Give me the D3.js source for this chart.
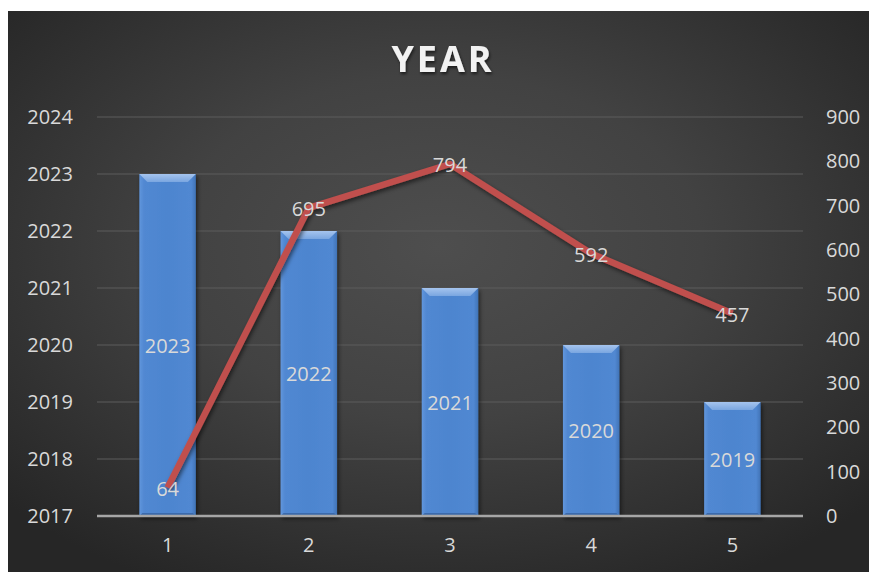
<!DOCTYPE html>
<html>
<head>
<meta charset="utf-8">
<script src="https://cdn.jsdelivr.net/npm/d3@7"></script>
<style>
  html, body { margin: 0; padding: 0; background: #ffffff; }
  svg { display: block; }
</style>
</head>
<body>
<svg id="chart" width="869" height="572"></svg>
<script>
// Categories and series
const categories = ["1", "2", "3", "4", "5"];
const yearValues = [2023, 2022, 2021, 2020, 2019];
const lineValues = [64, 695, 794, 592, 457];
const leftTicks = [2017, 2018, 2019, 2020, 2021, 2022, 2023, 2024];
const rightTicks = [0, 100, 200, 300, 400, 500, 600, 700, 800, 900];
const title = "YEAR";

const svg = d3.select("#chart");
const W = 869, H = 572;
const frame = { x: 8, y: 11, w: W - 8, h: H - 11 };
const plot = { left: 97, right: 803, top: 117, bottom: 516 };

const defs = svg.append("defs");

// Dark radial background
const bg = defs.append("radialGradient").attr("id", "bg")
  .attr("cx", "50%").attr("cy", "42%").attr("r", "68%");
bg.append("stop").attr("offset", "0%").attr("stop-color", "#4e4e4e");
bg.append("stop").attr("offset", "45%").attr("stop-color", "#424242");
bg.append("stop").attr("offset", "100%").attr("stop-color", "#262626");

// Bar body gradient (slightly lighter edges)
const barGrad = defs.append("linearGradient").attr("id", "barGrad")
  .attr("x1", "0").attr("x2", "1").attr("y1", "0").attr("y2", "0");
[["0%", "#6196dc"], ["8%", "#5188d2"], ["50%", "#4d85cf"], ["92%", "#5188d2"], ["100%", "#4073b6"]]
  .forEach(([o, c]) => barGrad.append("stop").attr("offset", o).attr("stop-color", c));

const bevGrad = defs.append("linearGradient").attr("id", "bevGrad")
  .attr("x1", "0").attr("x2", "0").attr("y1", "0").attr("y2", "1");
bevGrad.append("stop").attr("offset", "0%").attr("stop-color", "#a5c4ee");
bevGrad.append("stop").attr("offset", "100%").attr("stop-color", "#7aa6e0");

const shadow = defs.append("filter").attr("id", "shadow")
  .attr("x", "-20%").attr("y", "-20%").attr("width", "140%").attr("height", "140%");
shadow.append("feDropShadow").attr("dx", 1.5).attr("dy", 2.5).attr("stdDeviation", 2)
  .attr("flood-color", "#000").attr("flood-opacity", 0.55);

const textShadow = defs.append("filter").attr("id", "tshadow")
  .attr("x", "-20%").attr("y", "-30%").attr("width", "140%").attr("height", "160%");
textShadow.append("feDropShadow").attr("dx", 1).attr("dy", 2).attr("stdDeviation", 1.5)
  .attr("flood-color", "#000").attr("flood-opacity", 0.6);

svg.append("rect")
  .attr("x", frame.x).attr("y", frame.y)
  .attr("width", frame.w).attr("height", frame.h)
  .attr("fill", "url(#bg)");

// Scales
const x = d3.scaleBand().domain(categories)
  .range([plot.left, plot.right]).paddingInner(0.6).paddingOuter(0.3);
const yL = d3.scaleLinear().domain([2017, 2024]).range([plot.bottom, plot.top]);
const yR = d3.scaleLinear().domain([0, 900]).range([plot.bottom, plot.top]);

const font = "'Open Sans', 'Noto Sans', sans-serif";
const textColor = "#d9d9d9";

// Gridlines
svg.append("g")
  .selectAll("line").data(leftTicks.slice(1)).join("line")
  .attr("x1", plot.left).attr("x2", plot.right)
  .attr("y1", d => yL(d)).attr("y2", d => yL(d))
  .attr("stroke", "#5c5c5c").attr("stroke-width", 1.2);

// Left axis
const leftAxis = svg.append("g")
  .attr("transform", `translate(${plot.left - 24},0)`)
  .call(d3.axisLeft(yL).tickValues(leftTicks).tickFormat(d3.format("d")).tickSize(0).tickPadding(0));
leftAxis.select(".domain").remove();
leftAxis.selectAll("text").attr("fill", textColor).attr("font-family", font).attr("font-size", 20);

// Right axis
const rightAxis = svg.append("g")
  .attr("transform", `translate(${plot.right + 23},0)`)
  .call(d3.axisRight(yR).tickValues(rightTicks).tickSize(0).tickPadding(0));
rightAxis.select(".domain").remove();
rightAxis.selectAll("text").attr("fill", textColor).attr("font-family", font).attr("font-size", 20);

// Bottom axis labels
const bottomAxis = svg.append("g")
  .attr("transform", `translate(0,${plot.bottom + 22})`)
  .call(d3.axisBottom(x).tickSize(0).tickPadding(0));
bottomAxis.select(".domain").remove();
bottomAxis.selectAll("text").attr("fill", textColor).attr("font-family", font).attr("font-size", 20);

// Bars with bevelled tops
const bars = svg.append("g").selectAll("g").data(categories).join("g")
  .attr("filter", "url(#shadow)");
const bw = x.bandwidth();
const bev = 8;
bars.append("rect")
  .attr("x", d => x(d)).attr("width", bw)
  .attr("y", (d, i) => yL(yearValues[i]))
  .attr("height", (d, i) => yL(2017) - yL(yearValues[i]))
  .attr("fill", "url(#barGrad)");
bars.append("path")
  .attr("d", (d, i) => {
    const x0 = x(d), x1 = x(d) + bw, y0 = yL(yearValues[i]);
    return `M${x0},${y0}L${x1},${y0}L${x1 - bev},${y0 + bev}L${x0 + bev},${y0 + bev}Z`;
  })
  .attr("fill", "url(#bevGrad)");
bars.append("path")
  .attr("d", (d, i) => {
    const x0 = x(d), x1 = x(d) + bw, y0 = yL(yearValues[i]), yb = yL(2017);
    return `M${x0},${yb}L${x1},${yb}L${x1 - 3},${yb - 3}L${x0 + 3},${yb - 3}Z`;
  })
  .attr("fill", "#3b6aab");

// Baseline
svg.append("line")
  .attr("x1", plot.left).attr("x2", plot.right)
  .attr("y1", plot.bottom).attr("y2", plot.bottom)
  .attr("stroke", "#a6a6a6").attr("stroke-width", 2.5);

// Bar value labels
svg.append("g").selectAll("text").data(categories).join("text")
  .attr("x", d => x(d) + bw / 2)
  .attr("y", (d, i) => (yL(yearValues[i]) + yL(2017)) / 2)
  .attr("text-anchor", "middle").attr("dominant-baseline", "central")
  .attr("fill", textColor).attr("font-family", font).attr("font-size", 20)
  .text((d, i) => yearValues[i]);

// Line series
const line = d3.line()
  .x((d, i) => x(categories[i]) + bw / 2)
  .y(d => yR(d));
svg.append("path")
  .datum(lineValues)
  .attr("d", line)
  .attr("fill", "none")
  .attr("stroke", "#c0504d")
  .attr("stroke-width", 6.5)
  .attr("stroke-linejoin", "round")
  .attr("filter", "url(#shadow)");

// Line value labels
svg.append("g").selectAll("text").data(lineValues).join("text")
  .attr("x", (d, i) => x(categories[i]) + bw / 2)
  .attr("y", d => yR(d) + 1)
  .attr("text-anchor", "middle").attr("dominant-baseline", "central")
  .attr("fill", textColor).attr("font-family", font).attr("font-size", 20)
  .text(d => d);

// Title
svg.append("text")
  .attr("x", 443).attr("y", 72)
  .attr("text-anchor", "middle")
  .attr("fill", "#f2f2f2")
  .attr("font-family", font).attr("font-weight", "bold").attr("font-size", 36)
  .attr("letter-spacing", 3)
  .attr("filter", "url(#tshadow)")
  .text(title);
</script>
</body>
</html>
